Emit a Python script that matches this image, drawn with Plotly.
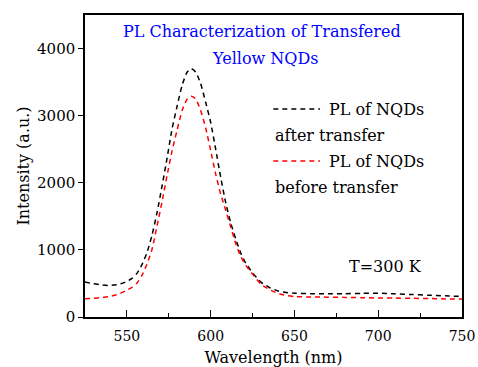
import plotly.graph_objects as go

wavelength = [525, 530, 535, 540, 545, 550, 553, 556, 559, 562, 565, 568, 571, 574, 577,
              580, 583, 586, 588.5, 591, 594, 597, 600, 603, 606, 609, 612, 615, 618, 621,
              625, 630, 635, 640, 645, 650, 660, 670, 680, 690, 700, 710, 720, 730, 740, 750]
pl_after = [520, 495, 478, 470, 485, 530, 575, 650, 780, 960, 1220, 1555, 1954, 2370, 2810,
            3145, 3456, 3650, 3700, 3650, 3480, 3200, 2900, 2500, 2080, 1700, 1400, 1160, 950, 800,
            660, 520, 440, 390, 365, 355, 348, 346, 348, 352, 354, 345, 335, 325, 315, 306]
pl_before = [272, 280, 290, 308, 340, 400, 440, 505, 620, 790, 1010, 1360, 1720, 2110, 2480,
             2790, 3080, 3250, 3290, 3250, 3080, 2820, 2480, 2130, 1830, 1590, 1340, 1090, 900, 770,
             640, 490, 410, 355, 320, 305, 298, 296, 292, 288, 284, 282, 278, 275, 270, 268]

x_ticks = [550, 600, 650, 700, 750]
y_ticks = [0, 1000, 2000, 3000, 4000]

FONT = "DejaVu Serif"

fig = go.Figure()
fig.add_trace(go.Scatter(x=wavelength, y=pl_after, mode="lines", name="PL of NQDs after transfer",
                         line=dict(color="black", width=1.5, dash="5px,4px", shape="spline", smoothing=0.6)))
fig.add_trace(go.Scatter(x=wavelength, y=pl_before, mode="lines", name="PL of NQDs before transfer",
                         line=dict(color="red", width=1.5, dash="5px,4px", shape="spline", smoothing=0.6)))

fig.update_layout(
    width=478, height=367,
    margin=dict(l=85, r=16, t=15, b=50, autoexpand=False),
    paper_bgcolor="white", plot_bgcolor="white",
    showlegend=False,
    font=dict(family=FONT, size=15, color="black"),
)
fig.update_xaxes(
    range=[525, 750], tickvals=x_ticks, ticks="inside", ticklen=7, tickwidth=1, tickcolor="black",
    minor=dict(dtick=25, tick0=525, ticks="inside", ticklen=4, tickcolor="black"),
    showline=True, linecolor="black", linewidth=1.5, mirror=True, showgrid=False, zeroline=False,
    title=dict(text="Wavelength (nm)", font=dict(size=16, family=FONT), standoff=12),
    tickfont=dict(size=14, family=FONT), ticklabelstandoff=5, automargin=False,
)
fig.update_yaxes(
    range=[0, 4500], tickvals=y_ticks, ticks="outside", ticklen=5, tickwidth=1, tickcolor="black",
    showline=True, linecolor="black", linewidth=1.5, mirror=True, showgrid=False, zeroline=False,
    title=dict(text="Intensity (a.u.)", font=dict(size=16, family=FONT), standoff=3),
    tickfont=dict(size=15, family=FONT), automargin=False,
)

# title annotations
fig.add_annotation(text="PL Characterization of Transfered", xref="paper", yref="paper",
                   x=0.469, y=0.944, showarrow=False, font=dict(color="#0000FF", size=16, family=FONT),
                   xanchor="center", yanchor="middle")
fig.add_annotation(text="Yellow NQDs", xref="paper", yref="paper",
                   x=0.477, y=0.856, showarrow=False, font=dict(color="#0000FF", size=16, family=FONT),
                   xanchor="center", yanchor="middle")

# manual legend
fig.add_shape(type="line", xref="paper", yref="paper", x0=0.4995, x1=0.6235, y0=0.6886, y1=0.6886,
              line=dict(color="black", width=1.5, dash="5px,4px"))
fig.add_shape(type="line", xref="paper", yref="paper", x0=0.4995, x1=0.6235, y0=0.5165, y1=0.5165,
              line=dict(color="red", width=1.5, dash="5px,4px"))
for txt, xx, yy in [("PL of NQDs", 0.642, 0.6886), ("after transfer", 0.4987, 0.6025),
                    ("PL of NQDs", 0.642, 0.5165), ("before transfer", 0.4987, 0.4283),
                    ("T=300 K", 0.6945, 0.1672)]:
    fig.add_annotation(text=txt, xref="paper", yref="paper", x=xx, y=yy, showarrow=False,
                       xanchor="left", yanchor="middle", font=dict(size=16, family=FONT, color="black"))

fig.write_html("out.html", config={"displayModeBar": False},
               post_script="document.body.style.margin='0';")
